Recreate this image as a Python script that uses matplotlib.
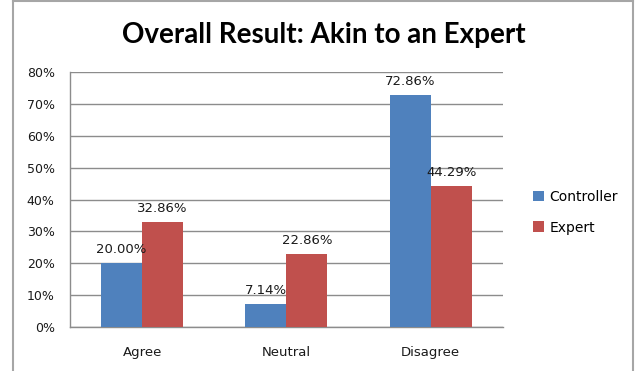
"""Recreates the 'Akin to an Expert' grouped bar chart."""

import matplotlib
matplotlib.use('agg')
from matplotlib import pyplot
from matplotlib.lines import Line2D
import numpy

CATEGORIES = ['Agree', 'Neutral', 'Disagree']
CONTROLLER_VALUES = [20.00, 7.14, 72.86]
EXPERT_VALUES = [32.86, 22.86, 44.29]
SERIES_NAMES = ['Controller', 'Expert']
Y_TICKS = [0, 10, 20, 30, 40, 50, 60, 70, 80]

BLUE = '#4F81BD'
RED = '#C0504D'
GRID_COLOUR = '#8C8C8C'
BORDER_COLOUR = '#A6A6A6'
BAR_WIDTH = 0.284

pyplot.rcParams['font.family'] = ['DejaVu Sans']

figure_object = pyplot.figure(figsize=(6.39, 3.71), dpi=100)
axes_object = figure_object.add_axes([0.1095, 0.1186, 0.6776, 0.6873])

x_values = numpy.arange(len(CATEGORIES))
bar_sets = [
    axes_object.bar(x_values - BAR_WIDTH / 2, CONTROLLER_VALUES, BAR_WIDTH,
                    color=BLUE, label=SERIES_NAMES[0], zorder=3),
    axes_object.bar(x_values + BAR_WIDTH / 2, EXPERT_VALUES, BAR_WIDTH,
                    color=RED, label=SERIES_NAMES[1], zorder=3)
]

for this_bar_set, these_values in zip(bar_sets, [CONTROLLER_VALUES,
                                                 EXPERT_VALUES]):
    for this_bar, this_value in zip(this_bar_set, these_values):
        axes_object.annotate(
            '{0:.2f}%'.format(this_value),
            xy=(this_bar.get_x() + this_bar.get_width() / 2, this_value),
            xytext=(0, 5), textcoords='offset points',
            ha='center', va='bottom', fontsize=9.5, color='#1A1A1A'
        )

axes_object.set_xlim(-0.5, len(CATEGORIES) - 0.5)
axes_object.set_ylim(0, 80)
axes_object.set_yticks(Y_TICKS)
axes_object.set_yticklabels(['{0:d}%'.format(t) for t in Y_TICKS])
axes_object.set_xticks(x_values)
axes_object.set_xticklabels(CATEGORIES)
axes_object.tick_params(axis='y', length=0, pad=11, labelsize=9,
                        labelcolor='#1A1A1A')
axes_object.tick_params(axis='x', length=0, pad=14, labelsize=9.5,
                        labelcolor='#1A1A1A')
axes_object.yaxis.grid(True, color=GRID_COLOUR, linewidth=1, zorder=0)
axes_object.set_axisbelow(True)

for side in ['top', 'right']:
    axes_object.spines[side].set_visible(False)
for side in ['left', 'bottom']:
    axes_object.spines[side].set_color(GRID_COLOUR)
    axes_object.spines[side].set_linewidth(1)

axes_object.legend(
    loc='center left', bbox_to_anchor=(1.04, 0.45), frameon=False,
    fontsize=10, handlelength=0.8, handleheight=0.8, handletextpad=0.4,
    labelspacing=1.2
)

figure_object.text(0.507, 0.905, 'Overall Result: Akin to an Expert',
                   ha='center', va='center', fontsize=20,
                   fontweight='bold', family=['Lato', 'DejaVu Sans'])

# chart border (top, left and right edges are visible in the reference)
for x_coords, y_coords in [([0.0203, 0.0203], [0, 0.997]),
                           ([0.9906, 0.9906], [0, 0.997]),
                           ([0.0203, 0.9906], [0.997, 0.997])]:
    figure_object.add_artist(Line2D(x_coords, y_coords, color=BORDER_COLOUR,
                                    linewidth=1.5,
                                    transform=figure_object.transFigure))

figure_object.savefig('out.png', dpi=100)
pyplot.close(figure_object)
